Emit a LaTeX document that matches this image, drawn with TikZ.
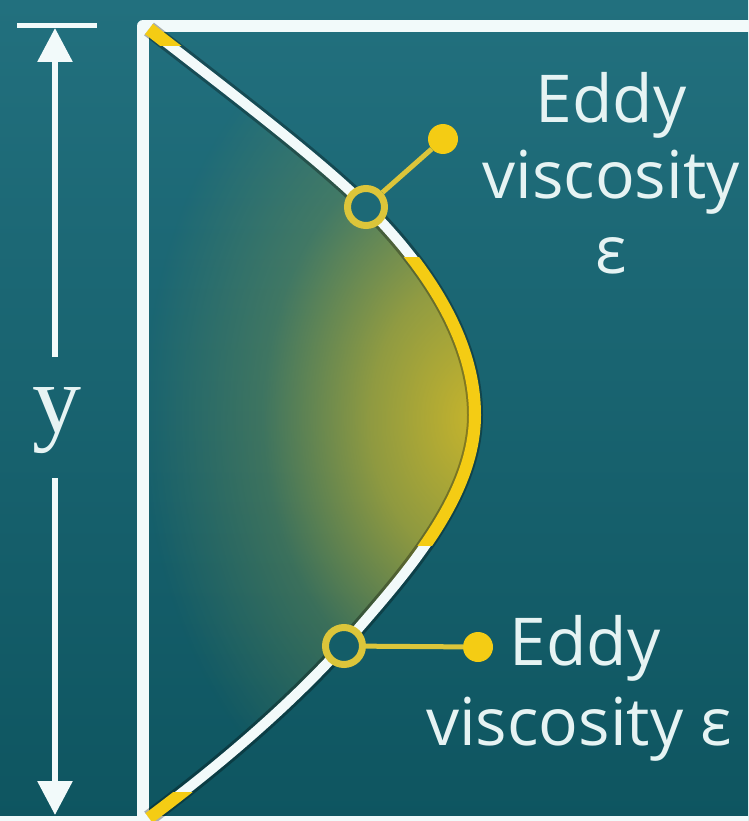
\documentclass[tikz,border=0pt]{standalone}
\usepackage{fontspec}
\newfontfamily\labfont{Open Sans}
\newfontfamily\yfont{Liberation Serif}
\usetikzlibrary{arrows.meta,fadings}
\definecolor{bgtop}{HTML}{22707E}
\definecolor{bgbot}{HTML}{0E5560}
\definecolor{wallc}{HTML}{F2FAFA}
\definecolor{curvey}{HTML}{F4CC14}
\definecolor{ringy}{HTML}{DCC53A}
\definecolor{glowc}{HTML}{C8B52C}
\definecolor{txtc}{HTML}{E6F3F3}
\definecolor{ringin1}{HTML}{1D6976}
\definecolor{ringin2}{HTML}{145D68}
\pgfdeclareradialshading{glowsh}{\pgfpointorigin}{color(0bp)=(white); color(8bp)=(white!68!black); color(16bp)=(white!22!black); color(25bp)=(black); color(50bp)=(black)}
\pgfdeclarefading{glowfade}{\pgfuseshading{glowsh}}
\newcommand\flowcurve{(149,29) .. controls (230,92) and (320,160) .. (367,207) .. controls (414,254) and (475,330) .. (475,415) .. controls (475,500) and (400,580) .. (344,645) .. controls (290,705) and (220,765) .. (149,818)}
\begin{document}
\begin{tikzpicture}[x=1pt,y=-1pt,
  wall/.style={wallc, line width=12pt, line join=round, line cap=round},
  dimline/.style={wallc, line width=6pt},
  ring/.style={circle, draw=ringy, line width=7pt, fill=#1, minimum size=37pt, inner sep=0pt},
  dot/.style={circle, fill=curvey, minimum size=30pt, inner sep=0pt},
  leader/.style={ringy, line width=5pt},
  lab/.style={text=txtc, font=\labfont\fontsize{66}{75}\selectfont, anchor=base, inner sep=0pt},
]
\useasboundingbox (0,0) rectangle (748,821);
\shade[top color=bgtop, bottom color=bgbot] (0,0) rectangle (748,821);
% glow fill
\begin{scope}
  \clip \flowcurve -- cycle;
  \fill[glowc, path fading=glowfade, fit fading=false,
        fading transform={shift={(478,418)}, xscale=13.4, yscale=18}]
        (140,0) rectangle (748,821);
\end{scope}
% walls
\draw[wall] (143,830) -- (143,26) -- (760,26);
\fill[wallc] (0,816) rectangle (748,822);
% curve
\draw[black, opacity=.3, line width=16pt] \flowcurve;
\draw[wallc, line width=10pt] \flowcurve;
\begin{scope}
  \clip (300,257) rectangle (540,545);
  \draw[curvey, line width=12pt] \flowcurve;
\end{scope}
\begin{scope}
  \clip (140,0) rectangle (200,46);
  \draw[curvey, line width=13pt] \flowcurve;
\end{scope}
\begin{scope}
  \clip (140,792) rectangle (200,821);
  \draw[curvey, line width=12pt] \flowcurve;
\end{scope}
% dimension
\coordinate (tickL) at (17,26);
\coordinate (tickR) at (97,26);
\draw[wallc, line width=5pt] (tickL) -- (tickR);
\coordinate (dimtop) at (55,28);
\coordinate (gapA) at (55,357);
\coordinate (gapB) at (55,478);
\coordinate (dimbot) at (55,815);
\draw[dimline, -{Triangle[width=34pt,length=34pt]}] (gapA) -- (dimtop);
\draw[dimline, -{Triangle[width=34pt,length=34pt]}] (gapB) -- (dimbot);
\node[text=txtc, font=\yfont\fontsize{98}{98}\selectfont, inner sep=0pt, anchor=base] (ylab) at (57,432) {y};
% leaders
\node[ring=ringin1] (r1) at (366,207) {};
\node[dot] (d1) at (443,139) {};
\draw[leader] (r1) -- (d1);
\node[ring=ringin2] (r2) at (344,646) {};
\node[dot] (d2) at (478,647) {};
\draw[leader] (r2) -- (d2);
% labels
\node[lab] (e1a) at (611,123) {Eddy};
\node[lab] (e1b) at (611,198) {viscosity};
\node[lab] (e1c) at (611,273) {ε};
\node[lab] (e2a) at (585,665) {Eddy};
\node[lab] (e2b) at (579,745) {viscosity ε};
\end{tikzpicture}
\end{document}
